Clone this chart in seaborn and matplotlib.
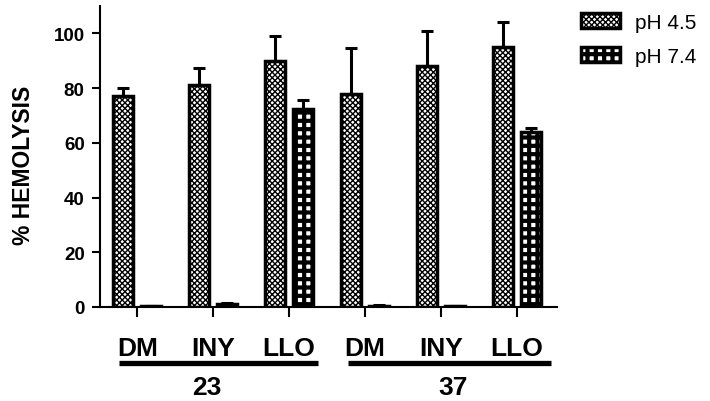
import matplotlib
matplotlib.use("Agg")
import matplotlib.pyplot as plt
import matplotlib.patches as mpatches
import seaborn as sns
import pandas as pd

# ---- data ----
groups = ["23", "23", "23", "37", "37", "37"]
agents = ["DM", "INY", "LLO", "DM", "INY", "LLO"]
ph45 = [77, 81, 90, 78, 88, 95]
ph45_err = [3, 6.5, 9, 16.5, 13, 9]
ph74 = [0.3, 1.0, 72.5, 0.5, 0.2, 64]
ph74_err = [0.2, 0.3, 3, 0.2, 0.2, 1.5]
series = ["pH 4.5", "pH 7.4"]
group_labels = ["23", "37"]
yticks = [0, 20, 40, 60, 80, 100]

cats = [a + "-" + g for a, g in zip(agents, groups)]
df = pd.DataFrame({
    "cat": cats * 2,
    "val": ph45 + ph74,
    "pH": [series[0]] * 6 + [series[1]] * 6,
})

sns.set_style("white")
plt.rcParams["font.family"] = ["Liberation Sans", "DejaVu Sans"]
plt.rcParams["hatch.color"] = "black"
for k in ["text.color", "axes.labelcolor", "xtick.color", "ytick.color"]:
    plt.rcParams[k] = "black"

fig = plt.figure(figsize=(7.10, 4.02), dpi=100)
ax = fig.add_axes([100 / 710, 1 - 308 / 402, 457 / 710, 301 / 402])

sns.barplot(data=df, x="cat", y="val", hue="pH", order=cats, hue_order=series,
            errorbar=None, width=0.74, gap=0.3, palette=["white", "white"],
            edgecolor="black", linewidth=2.5, legend=False, ax=ax)

hatches = ["xxxxxx", "++"]
hatch_lw = [1.0, 3.0]
errs = [ph45_err, ph74_err]
for cont, h, hl, err in zip(ax.containers, hatches, hatch_lw, errs):
    xs, ys = [], []
    for bar in cont:
        bar.set_hatch(h)
        try:
            bar.set_hatch_linewidth(hl)
        except Exception:
            pass
        xs.append(bar.get_x() + bar.get_width() / 2)
        ys.append(bar.get_height())
    ax.errorbar(xs, ys, yerr=[[0] * len(err), err], fmt="none", ecolor="black",
                elinewidth=2.2, capsize=4.5, capthick=2.2, zorder=1)

ax.set_xlim(-0.49, 5.53)
ax.set_ylim(0, 110)
ax.set_yticks(yticks)
ax.set_yticklabels([str(t) for t in yticks], fontsize=13.5, fontweight="bold")
ax.set_xticks(range(len(agents)))
ax.set_xticklabels(agents, fontsize=19, fontweight="bold")
ax.set_xlabel("")
ax.set_ylabel("% HEMOLYSIS", fontsize=16.5, fontweight="bold")
ax.yaxis.set_label_coords(-0.142, 0.475)

for s in ["top", "right"]:
    ax.spines[s].set_visible(False)
for s in ["left", "bottom"]:
    ax.spines[s].set_linewidth(1.5)
    ax.spines[s].set_color("black")
ax.tick_params(axis="x", direction="out", length=7, width=1.5, pad=14, bottom=True)
ax.tick_params(axis="y", direction="out", length=6, width=1.5, pad=5, left=True)

# group bars and labels
spans = [(-0.24, 2.38), (2.78, 5.45)]
centers = [0.92, 4.16]
for (x0, x1), cx, lab in zip(spans, centers, group_labels):
    ax.plot([x0, x1], [-20.4, -20.4], color="black", lw=3.8,
            solid_capstyle="butt", clip_on=False)
    ax.text(cx, -29.2, lab, ha="center", va="center", fontsize=19,
            fontweight="bold", clip_on=False)

handles = [mpatches.Patch(facecolor="white", edgecolor="black", linewidth=2.5,
                          hatch=h, label=lab) for lab, h in zip(series, hatches)]
leg = fig.legend(handles=handles, loc="upper left",
                 bbox_to_anchor=(581 / 710, 1 - 14 / 402),
                 frameon=False, fontsize=15, handlelength=1.85, handleheight=0.7,
                 handletextpad=0.75, labelspacing=0.7, borderpad=0, borderaxespad=0)
for lh, hl in zip(leg.legend_handles, hatch_lw):
    try:
        lh.set_hatch_linewidth(hl)
    except Exception:
        pass

fig.savefig("out.png", dpi=100)
